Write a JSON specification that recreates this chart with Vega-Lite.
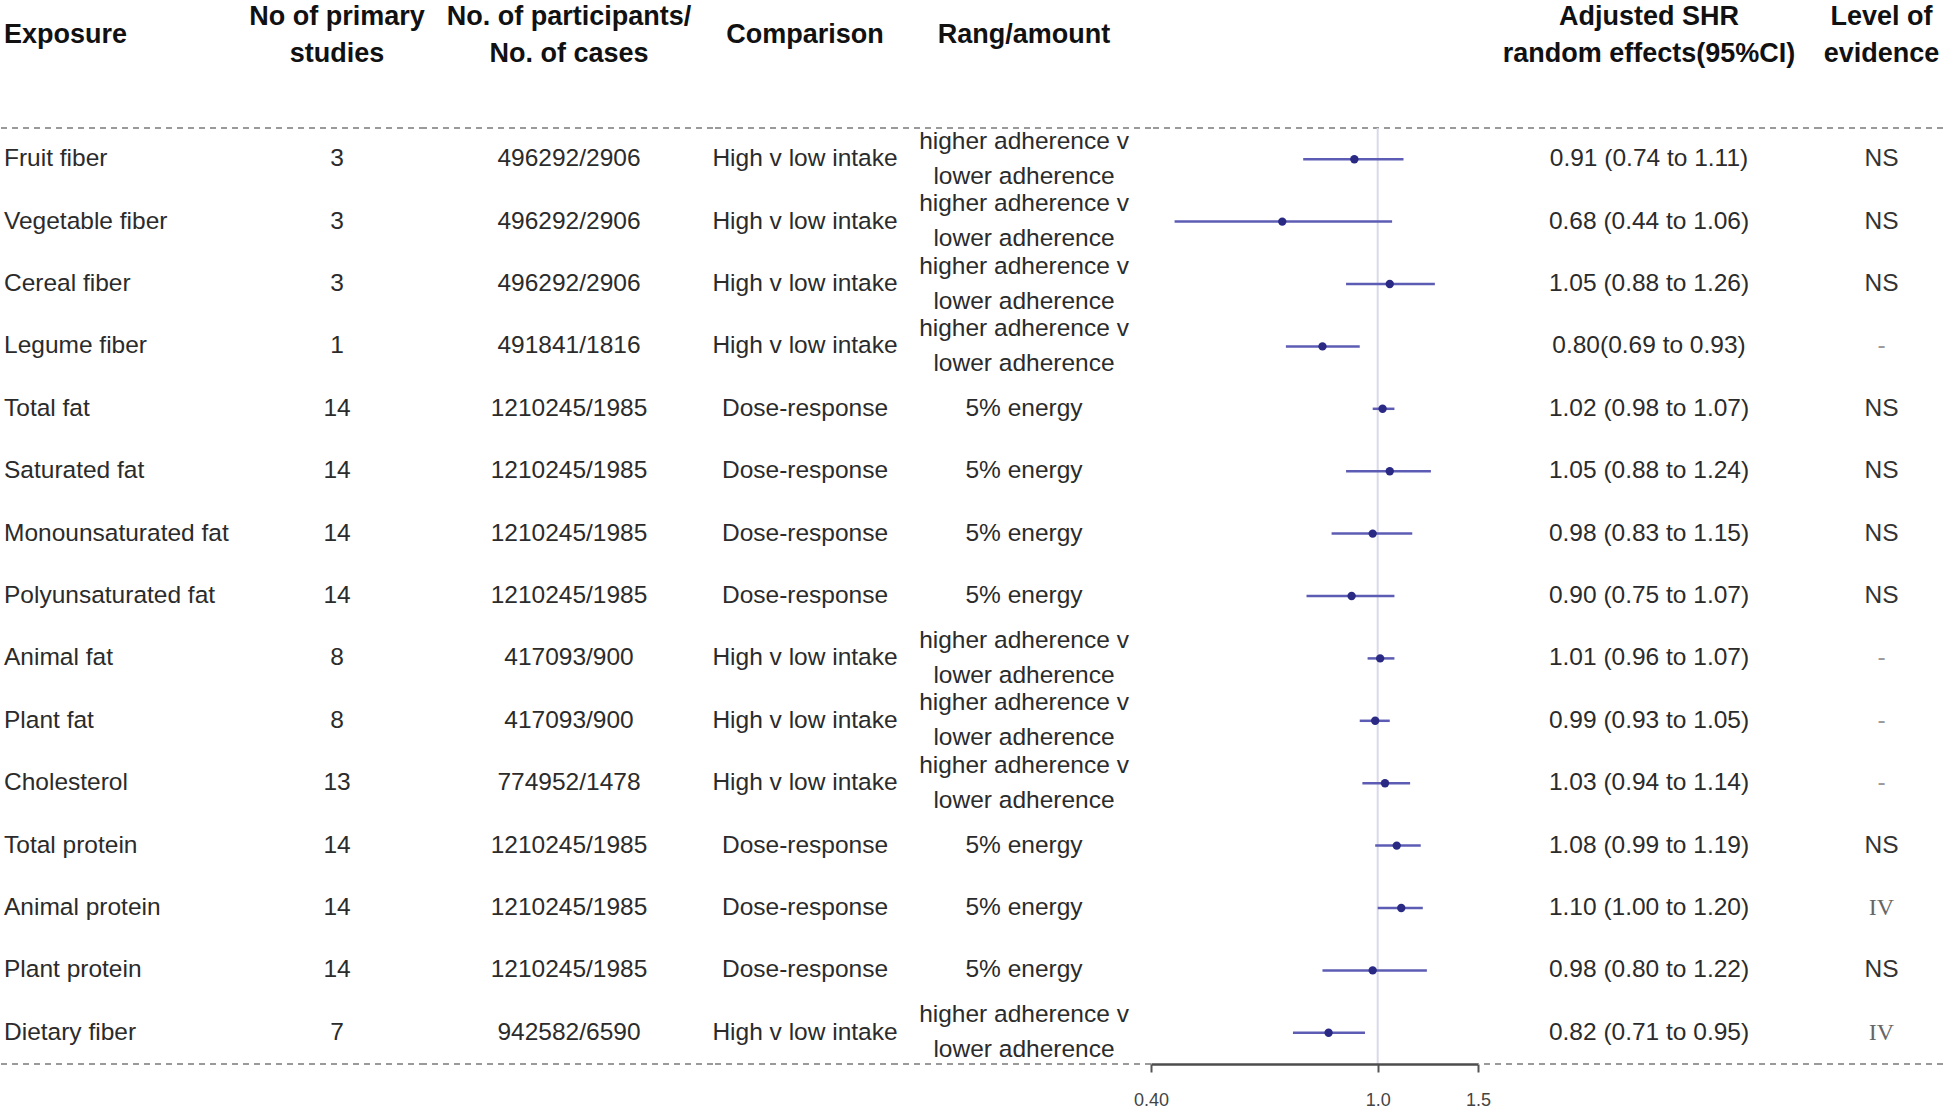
{
  "$schema": "https://vega.github.io/schema/vega-lite/v6.json",
  "background": "white",
  "padding": {"top": 3, "left": 0, "right": 0, "bottom": 0},
  "bounds": "flush",
  "spacing": 0,
  "config": {
    "font": "Liberation Sans",
    "view": {"stroke": null},
    "title": {"fontSize": 27, "fontWeight": "bold", "color": "#111111", "lineHeight": 37, "offset": 59, "frame": "group", "baseline": "bottom"},
    "text": {"fontSize": 24.5, "color": "#2b2b2b"}
  },
  "datasets": {
    "rows": [
      {"exposure": "Fruit fiber", "studies": 3, "participants_cases": "496292/2906", "comparison": "High v low intake", "range": "higher adherence v\nlower adherence", "hr": 0.91, "lo": 0.74, "hi": 1.11, "shr_ci": "0.91 (0.74 to 1.11)", "level": "NS"},
      {"exposure": "Vegetable fiber", "studies": 3, "participants_cases": "496292/2906", "comparison": "High v low intake", "range": "higher adherence v\nlower adherence", "hr": 0.68, "lo": 0.44, "hi": 1.06, "shr_ci": "0.68 (0.44 to 1.06)", "level": "NS"},
      {"exposure": "Cereal fiber", "studies": 3, "participants_cases": "496292/2906", "comparison": "High v low intake", "range": "higher adherence v\nlower adherence", "hr": 1.05, "lo": 0.88, "hi": 1.26, "shr_ci": "1.05 (0.88 to 1.26)", "level": "NS"},
      {"exposure": "Legume fiber", "studies": 1, "participants_cases": "491841/1816", "comparison": "High v low intake", "range": "higher adherence v\nlower adherence", "hr": 0.80, "lo": 0.69, "hi": 0.93, "shr_ci": "0.80(0.69 to 0.93)", "level": "-"},
      {"exposure": "Total fat", "studies": 14, "participants_cases": "1210245/1985", "comparison": "Dose-response", "range": "5% energy", "hr": 1.02, "lo": 0.98, "hi": 1.07, "shr_ci": "1.02 (0.98 to 1.07)", "level": "NS"},
      {"exposure": "Saturated fat", "studies": 14, "participants_cases": "1210245/1985", "comparison": "Dose-response", "range": "5% energy", "hr": 1.05, "lo": 0.88, "hi": 1.24, "shr_ci": "1.05 (0.88 to 1.24)", "level": "NS"},
      {"exposure": "Monounsaturated fat", "studies": 14, "participants_cases": "1210245/1985", "comparison": "Dose-response", "range": "5% energy", "hr": 0.98, "lo": 0.83, "hi": 1.15, "shr_ci": "0.98 (0.83 to 1.15)", "level": "NS"},
      {"exposure": "Polyunsaturated fat", "studies": 14, "participants_cases": "1210245/1985", "comparison": "Dose-response", "range": "5% energy", "hr": 0.90, "lo": 0.75, "hi": 1.07, "shr_ci": "0.90 (0.75 to 1.07)", "level": "NS"},
      {"exposure": "Animal fat", "studies": 8, "participants_cases": "417093/900", "comparison": "High v low intake", "range": "higher adherence v\nlower adherence", "hr": 1.01, "lo": 0.96, "hi": 1.07, "shr_ci": "1.01 (0.96 to 1.07)", "level": "-"},
      {"exposure": "Plant fat", "studies": 8, "participants_cases": "417093/900", "comparison": "High v low intake", "range": "higher adherence v\nlower adherence", "hr": 0.99, "lo": 0.93, "hi": 1.05, "shr_ci": "0.99 (0.93 to 1.05)", "level": "-"},
      {"exposure": "Cholesterol", "studies": 13, "participants_cases": "774952/1478", "comparison": "High v low intake", "range": "higher adherence v\nlower adherence", "hr": 1.03, "lo": 0.94, "hi": 1.14, "shr_ci": "1.03 (0.94 to 1.14)", "level": "-"},
      {"exposure": "Total protein", "studies": 14, "participants_cases": "1210245/1985", "comparison": "Dose-response", "range": "5% energy", "hr": 1.08, "lo": 0.99, "hi": 1.19, "shr_ci": "1.08 (0.99 to 1.19)", "level": "NS"},
      {"exposure": "Animal protein", "studies": 14, "participants_cases": "1210245/1985", "comparison": "Dose-response", "range": "5% energy", "hr": 1.10, "lo": 1.00, "hi": 1.20, "shr_ci": "1.10 (1.00 to 1.20)", "level": "IV"},
      {"exposure": "Plant protein", "studies": 14, "participants_cases": "1210245/1985", "comparison": "Dose-response", "range": "5% energy", "hr": 0.98, "lo": 0.80, "hi": 1.22, "shr_ci": "0.98 (0.80 to 1.22)", "level": "NS"},
      {"exposure": "Dietary fiber", "studies": 7, "participants_cases": "942582/6590", "comparison": "High v low intake", "range": "higher adherence v\nlower adherence", "hr": 0.82, "lo": 0.71, "hi": 0.95, "shr_ci": "0.82 (0.71 to 0.95)", "level": "IV"}
    ]
  },
  "hconcat": [
    {
      "width": 248, "height": 936,
      "title": {"text": "Exposure", "anchor": "start", "dx": 3, "dy": -19},
      "layer": [
        {"data": {"values": [{"exposure": "Fruit fiber"}]}, "mark": {"type": "rule", "color": "#9a9a9a", "strokeDash": [6, 5], "strokeWidth": 2}, "encoding": {"y": {"field": "exposure", "type": "nominal", "bandPosition": 0, "axis": null}}},
        {"data": {"values": [{"exposure": "Dietary fiber"}]}, "mark": {"type": "rule", "color": "#9a9a9a", "strokeDash": [6, 5], "strokeWidth": 2}, "encoding": {"y": {"field": "exposure", "type": "nominal", "bandPosition": 1, "axis": null}}},
        {"data": {"name": "rows"}, "mark": {"type": "text", "align": "left", "dx": -121},
         "encoding": {
           "y": {"field": "exposure", "type": "nominal", "scale": {"type": "band", "domain": ["Fruit fiber","Vegetable fiber","Cereal fiber","Legume fiber","Total fat","Saturated fat","Monounsaturated fat","Polyunsaturated fat","Animal fat","Plant fat","Cholesterol","Total protein","Animal protein","Plant protein","Dietary fiber"], "paddingInner": 0, "paddingOuter": 0}, "axis": null},
           "text": {"field": "exposure", "type": "nominal"}
         }}
      ]
    },
    {
      "width": 176, "height": 936,
      "title": {"text": ["No of primary", "studies"]},
      "layer": [
        {"data": {"values": [{"exposure": "Fruit fiber"}]}, "mark": {"type": "rule", "color": "#9a9a9a", "strokeDash": [6, 5], "strokeWidth": 2}, "encoding": {"y": {"field": "exposure", "type": "nominal", "bandPosition": 0, "axis": null}}},
        {"data": {"values": [{"exposure": "Dietary fiber"}]}, "mark": {"type": "rule", "color": "#9a9a9a", "strokeDash": [6, 5], "strokeWidth": 2}, "encoding": {"y": {"field": "exposure", "type": "nominal", "bandPosition": 1, "axis": null}}},
        {"data": {"name": "rows"}, "mark": {"type": "text"},
         "encoding": {
           "y": {"field": "exposure", "type": "nominal", "scale": {"type": "band", "domain": ["Fruit fiber","Vegetable fiber","Cereal fiber","Legume fiber","Total fat","Saturated fat","Monounsaturated fat","Polyunsaturated fat","Animal fat","Plant fat","Cholesterol","Total protein","Animal protein","Plant protein","Dietary fiber"], "paddingInner": 0, "paddingOuter": 0}, "axis": null},
           "text": {"field": "studies", "type": "nominal"}
         }}
      ]
    },
    {
      "width": 288, "height": 936,
      "title": {"text": ["No. of participants/", "No. of cases"]},
      "layer": [
        {"data": {"values": [{"exposure": "Fruit fiber"}]}, "mark": {"type": "rule", "color": "#9a9a9a", "strokeDash": [6, 5], "strokeWidth": 2}, "encoding": {"y": {"field": "exposure", "type": "nominal", "bandPosition": 0, "axis": null}}},
        {"data": {"values": [{"exposure": "Dietary fiber"}]}, "mark": {"type": "rule", "color": "#9a9a9a", "strokeDash": [6, 5], "strokeWidth": 2}, "encoding": {"y": {"field": "exposure", "type": "nominal", "bandPosition": 1, "axis": null}}},
        {"data": {"name": "rows"}, "mark": {"type": "text"},
         "encoding": {
           "y": {"field": "exposure", "type": "nominal", "scale": {"type": "band", "domain": ["Fruit fiber","Vegetable fiber","Cereal fiber","Legume fiber","Total fat","Saturated fat","Monounsaturated fat","Polyunsaturated fat","Animal fat","Plant fat","Cholesterol","Total protein","Animal protein","Plant protein","Dietary fiber"], "paddingInner": 0, "paddingOuter": 0}, "axis": null},
           "text": {"field": "participants_cases", "type": "nominal"}
         }}
      ]
    },
    {
      "width": 184, "height": 936,
      "title": {"text": "Comparison", "dy": -19},
      "layer": [
        {"data": {"values": [{"exposure": "Fruit fiber"}]}, "mark": {"type": "rule", "color": "#9a9a9a", "strokeDash": [6, 5], "strokeWidth": 2}, "encoding": {"y": {"field": "exposure", "type": "nominal", "bandPosition": 0, "axis": null}}},
        {"data": {"values": [{"exposure": "Dietary fiber"}]}, "mark": {"type": "rule", "color": "#9a9a9a", "strokeDash": [6, 5], "strokeWidth": 2}, "encoding": {"y": {"field": "exposure", "type": "nominal", "bandPosition": 1, "axis": null}}},
        {"data": {"name": "rows"}, "mark": {"type": "text"},
         "encoding": {
           "y": {"field": "exposure", "type": "nominal", "scale": {"type": "band", "domain": ["Fruit fiber","Vegetable fiber","Cereal fiber","Legume fiber","Total fat","Saturated fat","Monounsaturated fat","Polyunsaturated fat","Animal fat","Plant fat","Cholesterol","Total protein","Animal protein","Plant protein","Dietary fiber"], "paddingInner": 0, "paddingOuter": 0}, "axis": null},
           "text": {"field": "comparison", "type": "nominal"}
         }}
      ]
    },
    {
      "width": 254, "height": 936,
      "title": {"text": "Rang/amount", "dy": -19},
      "layer": [
        {"data": {"values": [{"exposure": "Fruit fiber"}]}, "mark": {"type": "rule", "color": "#9a9a9a", "strokeDash": [6, 5], "strokeWidth": 2}, "encoding": {"y": {"field": "exposure", "type": "nominal", "bandPosition": 0, "axis": null}}},
        {"data": {"values": [{"exposure": "Dietary fiber"}]}, "mark": {"type": "rule", "color": "#9a9a9a", "strokeDash": [6, 5], "strokeWidth": 2}, "encoding": {"y": {"field": "exposure", "type": "nominal", "bandPosition": 1, "axis": null}}},
        {"data": {"name": "rows"}, "transform": [{"filter": "datum.range === '5% energy'"}], "mark": {"type": "text"},
         "encoding": {
           "y": {"field": "exposure", "type": "nominal", "scale": {"type": "band", "domain": ["Fruit fiber","Vegetable fiber","Cereal fiber","Legume fiber","Total fat","Saturated fat","Monounsaturated fat","Polyunsaturated fat","Animal fat","Plant fat","Cholesterol","Total protein","Animal protein","Plant protein","Dietary fiber"], "paddingInner": 0, "paddingOuter": 0}, "axis": null},
           "text": {"field": "range", "type": "nominal"}
         }},
        {"data": {"name": "rows"}, "transform": [{"filter": "datum.range !== '5% energy'"}], "mark": {"type": "text", "lineBreak": "\n", "lineHeight": 35, "dy": -17.5},
         "encoding": {
           "y": {"field": "exposure", "type": "nominal", "axis": null},
           "text": {"field": "range", "type": "nominal"}
         }}
      ]
    },
    {
      "width": 327, "height": 936,
      "layer": [
        {"data": {"values": [{"exposure": "Fruit fiber"}]}, "mark": {"type": "rule", "color": "#9a9a9a", "strokeDash": [6, 5], "strokeWidth": 2}, "encoding": {"y": {"field": "exposure", "type": "nominal", "bandPosition": 0, "axis": null}}},
        {"data": {"values": [{"hr": 1}]}, "mark": {"type": "rule", "color": "#d9d9ea", "strokeWidth": 2},
         "encoding": {"x": {"field": "hr", "type": "quantitative", "scale": {"type": "log", "domain": [0.4, 1.5], "nice": false}, "axis": {"values": [0.4, 1, 1.5], "labelExpr": "datum.value < 0.5 ? '0.40' : format(datum.value, '.1f')", "title": null, "grid": false, "domainColor": "#4d4d4d", "domainWidth": 2.5, "tickColor": "#555555", "tickWidth": 2, "tickSize": 8, "labelFontSize": 18, "labelColor": "#444444", "labelPadding": 19, "labelFlush": false, "labelOverlap": false, "zindex": 1}}}},
        {"data": {"name": "rows"}, "mark": {"type": "rule", "color": "#5c5cb4", "strokeWidth": 2.5},
         "encoding": {
           "y": {"field": "exposure", "type": "nominal", "scale": {"type": "band", "domain": ["Fruit fiber","Vegetable fiber","Cereal fiber","Legume fiber","Total fat","Saturated fat","Monounsaturated fat","Polyunsaturated fat","Animal fat","Plant fat","Cholesterol","Total protein","Animal protein","Plant protein","Dietary fiber"], "paddingInner": 0, "paddingOuter": 0}, "axis": null},
           "x": {"field": "lo", "type": "quantitative", "axis": {"values": [0.4, 1, 1.5], "labelExpr": "datum.value < 0.5 ? '0.40' : format(datum.value, '.1f')", "title": null, "grid": false, "domainColor": "#4d4d4d", "domainWidth": 2.5, "tickColor": "#555555", "tickWidth": 2, "tickSize": 8, "labelFontSize": 18, "labelColor": "#444444", "labelPadding": 19, "labelFlush": false, "labelOverlap": false, "zindex": 1}},
           "x2": {"field": "hi"}
         }},
        {"data": {"name": "rows"}, "mark": {"type": "circle", "size": 70, "color": "#2a2a85", "opacity": 1},
         "encoding": {
           "y": {"field": "exposure", "type": "nominal", "axis": null},
           "x": {"field": "hr", "type": "quantitative", "axis": {"values": [0.4, 1, 1.5], "labelExpr": "datum.value < 0.5 ? '0.40' : format(datum.value, '.1f')", "title": null, "grid": false, "domainColor": "#4d4d4d", "domainWidth": 2.5, "tickColor": "#555555", "tickWidth": 2, "tickSize": 8, "labelFontSize": 18, "labelColor": "#444444", "labelPadding": 19, "labelFlush": false, "labelOverlap": false, "zindex": 1}}
         }}
      ]
    },
    {
      "width": 342, "height": 936,
      "title": {"text": ["Adjusted SHR", "random effects(95%CI)"]},
      "layer": [
        {"data": {"values": [{"exposure": "Fruit fiber"}]}, "mark": {"type": "rule", "color": "#9a9a9a", "strokeDash": [6, 5], "strokeWidth": 2}, "encoding": {"y": {"field": "exposure", "type": "nominal", "bandPosition": 0, "axis": null}}},
        {"data": {"values": [{"exposure": "Dietary fiber"}]}, "mark": {"type": "rule", "color": "#9a9a9a", "strokeDash": [6, 5], "strokeWidth": 2}, "encoding": {"y": {"field": "exposure", "type": "nominal", "bandPosition": 1, "axis": null}}},
        {"data": {"name": "rows"}, "mark": {"type": "text"},
         "encoding": {
           "y": {"field": "exposure", "type": "nominal", "scale": {"type": "band", "domain": ["Fruit fiber","Vegetable fiber","Cereal fiber","Legume fiber","Total fat","Saturated fat","Monounsaturated fat","Polyunsaturated fat","Animal fat","Plant fat","Cholesterol","Total protein","Animal protein","Plant protein","Dietary fiber"], "paddingInner": 0, "paddingOuter": 0}, "axis": null},
           "text": {"field": "shr_ci", "type": "nominal"}
         }}
      ]
    },
    {
      "width": 123, "height": 936,
      "title": {"text": ["Level of", "evidence"]},
      "layer": [
        {"data": {"values": [{"exposure": "Fruit fiber"}]}, "mark": {"type": "rule", "color": "#9a9a9a", "strokeDash": [6, 5], "strokeWidth": 2}, "encoding": {"y": {"field": "exposure", "type": "nominal", "bandPosition": 0, "axis": null}}},
        {"data": {"values": [{"exposure": "Dietary fiber"}]}, "mark": {"type": "rule", "color": "#9a9a9a", "strokeDash": [6, 5], "strokeWidth": 2}, "encoding": {"y": {"field": "exposure", "type": "nominal", "bandPosition": 1, "axis": null}}},
        {"data": {"name": "rows"}, "transform": [{"filter": "datum.level !== 'IV'"}], "mark": {"type": "text"},
         "encoding": {
           "y": {"field": "exposure", "type": "nominal", "scale": {"type": "band", "domain": ["Fruit fiber","Vegetable fiber","Cereal fiber","Legume fiber","Total fat","Saturated fat","Monounsaturated fat","Polyunsaturated fat","Animal fat","Plant fat","Cholesterol","Total protein","Animal protein","Plant protein","Dietary fiber"], "paddingInner": 0, "paddingOuter": 0}, "axis": null},
           "text": {"field": "level", "type": "nominal"},
           "color": {"condition": {"test": "datum.level === '-'", "value": "#9a9a9a"}, "value": "#333333"}
         }},
        {"data": {"name": "rows"}, "transform": [{"filter": "datum.level === 'IV'"}], "mark": {"type": "text", "font": "Liberation Serif", "fontSize": 24, "color": "#666666"},
         "encoding": {
           "y": {"field": "exposure", "type": "nominal", "axis": null},
           "text": {"field": "level", "type": "nominal"}
         }}
      ]
    }
  ]
}
